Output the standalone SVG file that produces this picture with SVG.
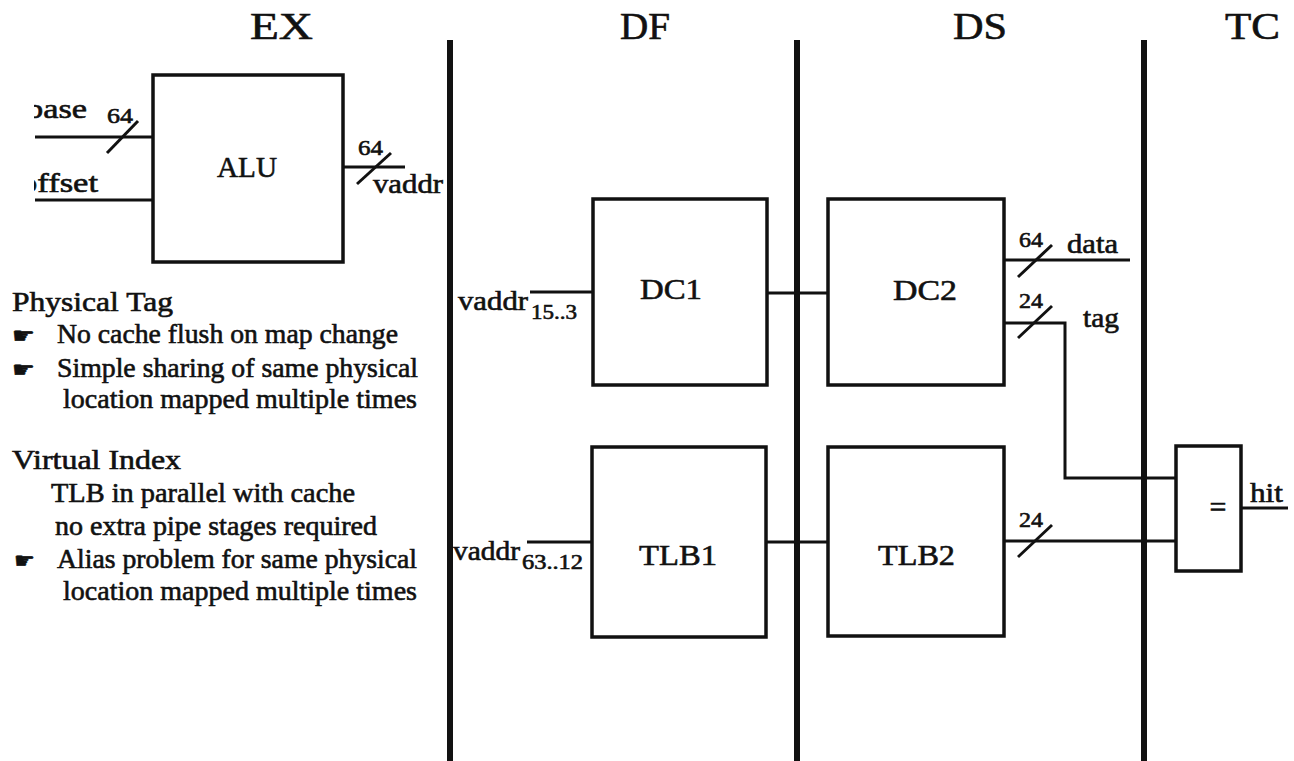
<svg xmlns="http://www.w3.org/2000/svg" width="1294" height="761" viewBox="0 0 1294 761">
<style>
text{font-family:"Liberation Serif","Times New Roman",serif;fill:#111;stroke:#111;stroke-width:0.6}
.hd{font-size:38px}
.lbl{font-size:30px}
.sm{font-size:27px}
.bw{font-size:21px}
.sub{font-size:20px}
.txt{font-size:27px}
.bul{font-family:"DejaVu Sans",sans-serif;font-size:22px}
.box{fill:#fff;stroke:#111;stroke-width:3.5}
.wire{fill:none;stroke:#111;stroke-width:3}
.stage{stroke:#111;stroke-width:6}
</style>
<defs>
<clipPath id="scan"><rect x="34" y="0" width="1260" height="761"/></clipPath>
</defs>
<rect width="1294" height="761" fill="#fff"/>
<g id="stages">
<line class="stage" x1="450" y1="40" x2="450" y2="761"/>
<line class="stage" x1="797" y1="40" x2="797" y2="761"/>
<line class="stage" x1="1144" y1="40" x2="1144" y2="761"/>
<text class="hd" x="250" y="39" textLength="63" lengthAdjust="spacingAndGlyphs">EX</text>
<text class="hd" x="620" y="39" textLength="50" lengthAdjust="spacingAndGlyphs">DF</text>
<text class="hd" x="953" y="39" textLength="54" lengthAdjust="spacingAndGlyphs">DS</text>
<text class="hd" x="1225" y="39" textLength="55" lengthAdjust="spacingAndGlyphs">TC</text>
</g>
<g id="connectors">
<path class="wire" d="M35 137H153"/>
<path class="wire" d="M107 153L138 121"/>
<path class="wire" d="M35 200H153"/>
<path class="wire" d="M343 167H405"/>
<path class="wire" d="M357 184L391 153"/>
<path class="wire" d="M530 292H593"/>
<path class="wire" d="M767 293H828"/>
<path class="wire" d="M527 542H592"/>
<path class="wire" d="M766 542H828"/>
<path class="wire" d="M1004 260H1130"/>
<path class="wire" d="M1018 277L1052 245"/>
<path class="wire" d="M1004 323H1065V478H1176"/>
<path class="wire" d="M1018 338L1052 306"/>
<path class="wire" d="M1004 541H1176"/>
<path class="wire" d="M1018 557L1052 525"/>
<path class="wire" d="M1241 508H1288"/>
<g clip-path="url(#scan)">
<text class="sm" x="26" y="118" textLength="61" lengthAdjust="spacingAndGlyphs">base</text>
<text class="sm" x="20" y="192" textLength="78" lengthAdjust="spacingAndGlyphs">offset</text>
</g>
<text class="bw" x="107" y="123" textLength="26" lengthAdjust="spacingAndGlyphs">64</text>
<text class="bw" x="358" y="155" textLength="25" lengthAdjust="spacingAndGlyphs">64</text>
<text class="sm" x="373" y="193" textLength="70" lengthAdjust="spacingAndGlyphs">vaddr</text>
<text class="sm" x="458" y="310" textLength="70" lengthAdjust="spacingAndGlyphs">vaddr</text>
<text class="sub" x="531" y="319" textLength="46" lengthAdjust="spacingAndGlyphs">15..3</text>
<text class="sm" x="453" y="560" textLength="67" lengthAdjust="spacingAndGlyphs">vaddr</text>
<text class="sub" x="522" y="569" textLength="61" lengthAdjust="spacingAndGlyphs">63..12</text>
<text class="bw" x="1019" y="247" textLength="24" lengthAdjust="spacingAndGlyphs">64</text>
<text class="sm" x="1067" y="253" textLength="51" lengthAdjust="spacingAndGlyphs">data</text>
<text class="bw" x="1019" y="308" textLength="24" lengthAdjust="spacingAndGlyphs">24</text>
<text class="sm" x="1083" y="327" textLength="36" lengthAdjust="spacingAndGlyphs">tag</text>
<text class="bw" x="1019" y="527" textLength="24" lengthAdjust="spacingAndGlyphs">24</text>
<text class="sm" x="1250" y="502" textLength="33" lengthAdjust="spacingAndGlyphs">hit</text>
</g>
<g id="ALU">
<rect class="box" x="153" y="75" width="190" height="187"/>
<text class="lbl" x="217" y="177" textLength="60" lengthAdjust="spacingAndGlyphs">ALU</text>
</g>
<g id="DC1">
<rect class="box" x="593" y="199" width="174" height="186"/>
<text class="lbl" x="640" y="299" textLength="62" lengthAdjust="spacingAndGlyphs">DC1</text>
</g>
<g id="DC2">
<rect class="box" x="828" y="199" width="176" height="186"/>
<text class="lbl" x="893" y="300" textLength="64" lengthAdjust="spacingAndGlyphs">DC2</text>
</g>
<g id="TLB1">
<rect class="box" x="592" y="447" width="174" height="190"/>
<text class="lbl" x="639" y="565" textLength="78" lengthAdjust="spacingAndGlyphs">TLB1</text>
</g>
<g id="TLB2">
<rect class="box" x="828" y="447" width="176" height="189"/>
<text class="lbl" x="878" y="565" textLength="77" lengthAdjust="spacingAndGlyphs">TLB2</text>
</g>
<g id="compare">
<rect class="box" x="1176" y="446" width="65" height="125"/>
<text class="lbl" x="1218" y="517" text-anchor="middle">=</text>
</g>
<g id="notes">
<text class="txt" x="12" y="311" textLength="161" lengthAdjust="spacingAndGlyphs">Physical Tag</text>
<text class="bul" x="12" y="343" textLength="23" lengthAdjust="spacingAndGlyphs">☛</text>
<text class="txt" x="57" y="343" textLength="341" lengthAdjust="spacingAndGlyphs">No cache flush on map change</text>
<text class="bul" x="12" y="377" textLength="23" lengthAdjust="spacingAndGlyphs">☛</text>
<text class="txt" x="57" y="377" textLength="361" lengthAdjust="spacingAndGlyphs">Simple sharing of same physical</text>
<text class="txt" x="63" y="408" textLength="354" lengthAdjust="spacingAndGlyphs">location mapped multiple times</text>
<text class="txt" x="12" y="469" textLength="169" lengthAdjust="spacingAndGlyphs">Virtual Index</text>
<text class="txt" x="51" y="502" textLength="304" lengthAdjust="spacingAndGlyphs">TLB in parallel with cache</text>
<text class="txt" x="55" y="535" textLength="322" lengthAdjust="spacingAndGlyphs">no extra pipe stages required</text>
<text class="bul" x="14" y="568" textLength="21" lengthAdjust="spacingAndGlyphs">☛</text>
<text class="txt" x="57" y="568" textLength="360" lengthAdjust="spacingAndGlyphs">Alias problem for same physical</text>
<text class="txt" x="63" y="600" textLength="354" lengthAdjust="spacingAndGlyphs">location mapped multiple times</text>
</g>
</svg>
